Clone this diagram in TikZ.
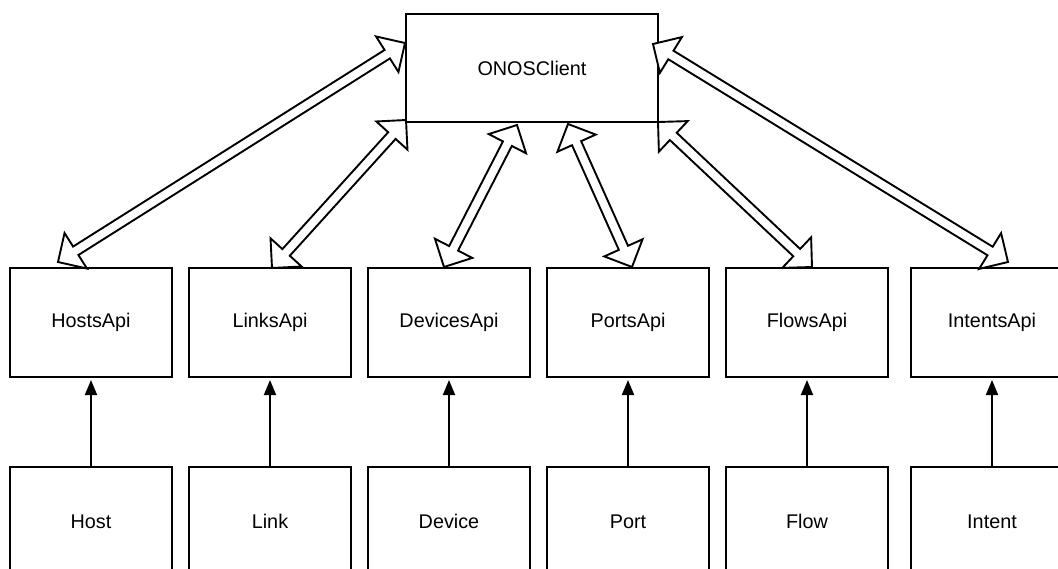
\documentclass[tikz,border=0pt]{standalone}
\usepackage{fontspec}
\setmainfont{Liberation Sans}
\usetikzlibrary{arrows.meta,calc,positioning}

% hollow double-headed block arrow between two points
\newcommand{\flexarrow}[2]{%
  \draw[flex] (#1)
    -- ($(#1)!21pt!(#2)!21pt!90:(#2)$)
    -- ($(#1)!21pt!(#2)!5pt!90:(#2)$)
    -- ($(#2)!21pt!(#1)!5pt!-90:(#1)$)
    -- ($(#2)!21pt!(#1)!21pt!-90:(#1)$)
    -- (#2)
    -- ($(#2)!21pt!(#1)!21pt!90:(#1)$)
    -- ($(#2)!21pt!(#1)!5pt!90:(#1)$)
    -- ($(#1)!21pt!(#2)!5pt!-90:(#2)$)
    -- ($(#1)!21pt!(#2)!21pt!-90:(#2)$)
    -- cycle;}

\begin{document}
\begin{tikzpicture}[
        x=1pt, y=-1pt,
        node distance=90pt and 17pt,
        box/.style={draw, line width=1.9pt, minimum width=162pt, minimum height=109pt,
                    inner sep=0pt, outer sep=0pt, font=\fontsize{19.8}{24}\selectfont},
        flex/.style={draw, fill=white, line width=1.9pt},
        feed/.style={-{Triangle[length=15pt, width=12pt]}, line width=1.9pt, shorten >=3pt}
    ]
    \useasboundingbox (0,0) rectangle (1058,568);
    \clip (0,0) rectangle (1058,568);

    % Nodes
    \node[box, minimum width=252pt, minimum height=108pt] (client) at (532,68) {ONOSClient};

    \node[box] (hostsapi) at (91,322.5) {HostsApi};
    \node[box, right=of hostsapi] (linksapi) {LinksApi};
    \node[box, right=of linksapi] (devicesapi) {DevicesApi};
    \node[box, right=of devicesapi] (portsapi) {PortsApi};
    \node[box, right=of portsapi] (flowsapi) {FlowsApi};
    \node[box, right=23pt of flowsapi] (intentsapi) {IntentsApi};

    \node[box, below=of hostsapi] (host) {Host};
    \node[box, below=of linksapi] (link) {Link};
    \node[box, below=of devicesapi] (device) {Device};
    \node[box, below=of portsapi] (port) {Port};
    \node[box, below=of flowsapi] (flow) {Flow};
    \node[box, below=of intentsapi] (intent) {Intent};

    % Arrow ends
    \coordinate (hostsapi-top) at (58,262);
    \coordinate (linksapi-top) at (272,268);
    \coordinate (devicesapi-top) at (444,267);
    \coordinate (portsapi-top) at (632,267);
    \coordinate (flowsapi-top) at (812,267);
    \coordinate (intentsapi-top) at (1008,262);
    \coordinate (client-hosts) at (405,43);
    \coordinate (client-links) at (406,120);
    \coordinate (client-devices) at (517,125);
    \coordinate (client-ports) at (568,124);
    \coordinate (client-flows) at (658,122);
    \coordinate (client-intents) at (653,44);

    % Edges
    \flexarrow{hostsapi-top}{client-hosts}
    \flexarrow{linksapi-top}{client-links}
    \flexarrow{devicesapi-top}{client-devices}
    \flexarrow{portsapi-top}{client-ports}
    \flexarrow{flowsapi-top}{client-flows}
    \flexarrow{intentsapi-top}{client-intents}

    \draw[feed] (host) -- (hostsapi);
    \draw[feed] (link) -- (linksapi);
    \draw[feed] (device) -- (devicesapi);
    \draw[feed] (port) -- (portsapi);
    \draw[feed] (flow) -- (flowsapi);
    \draw[feed] (intent) -- (intentsapi);

\end{tikzpicture}
\end{document}
